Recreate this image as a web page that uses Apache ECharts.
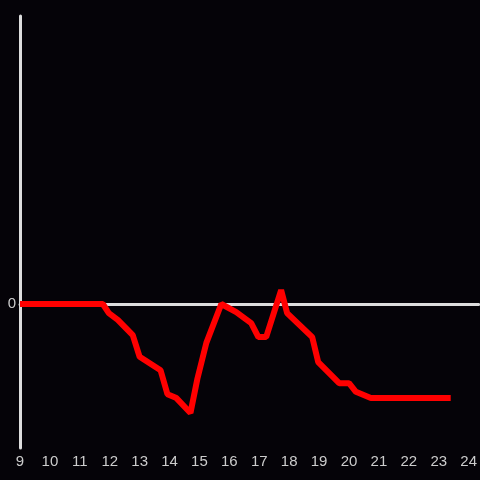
<!DOCTYPE html>
<html><head><meta charset="utf-8">
<script src="https://cdn.jsdelivr.net/npm/echarts@6/dist/echarts.min.js"></script>
<style>html,body{margin:0;padding:0;background:#050308;}#c{width:480px;height:480px;}</style>
</head><body><div id="c"></div>
<script>
const xValues = [9, 11.77, 11.97, 12.27, 12.77, 13.0, 13.7, 13.93, 14.23, 14.7, 14.93, 15.23, 15.73, 16.23, 16.73, 16.97, 17.23, 17.73, 17.93, 18.77, 18.97, 19.67, 20.0, 20.23, 20.73, 23.4];
const yValues = [0, 0, -0.19, -0.33, -0.65, -1.1, -1.38, -1.88, -1.96, -2.27, -1.56, -0.81, 0, -0.17, -0.4, -0.69, -0.69, 0.29, -0.19, -0.69, -1.21, -1.65, -1.65, -1.83, -1.96, -1.96];
const xTickMin = 9, xTickMax = 24;
const yZeroLabel = '0';

const chart = echarts.init(document.getElementById('c'));
chart.setOption({
  backgroundColor: '#050308',
  animation: false,
  grid: {left: 20, right: 0, top: 16, bottom: 32},
  xAxis: {
    type: 'value', min: xTickMin, max: 24.333, interval: 1,
    axisLine: {onZero: true, lineStyle: {color: '#dddddd', width: 3}},
    axisTick: {show: false},
    splitLine: {show: false},
    axisLabel: {color: '#cccccc', fontSize: 15, margin: 6, showMaxLabel: false,
      formatter: v => (Math.abs(v - Math.round(v)) < 1e-6 && v <= xTickMax) ? String(Math.round(v)) : ''}
  },
  yAxis: {
    type: 'value', min: -3, max: 6, interval: 3,
    axisLine: {show: true, onZero: false, lineStyle: {color: '#dddddd', width: 3}},
    axisTick: {show: false},
    splitLine: {show: false},
    axisLabel: {color: '#cccccc', fontSize: 15, margin: 4, padding: [2, 0, 0, 0], formatter: v => v === 0 ? yZeroLabel : ''}
  },
  series: [{
    type: 'line',
    data: xValues.map((x, i) => [x, yValues[i]]),
    showSymbol: false,
    lineStyle: {color: '#ff0000', width: 6},
    z: 3
  }]
});
</script></body></html>
